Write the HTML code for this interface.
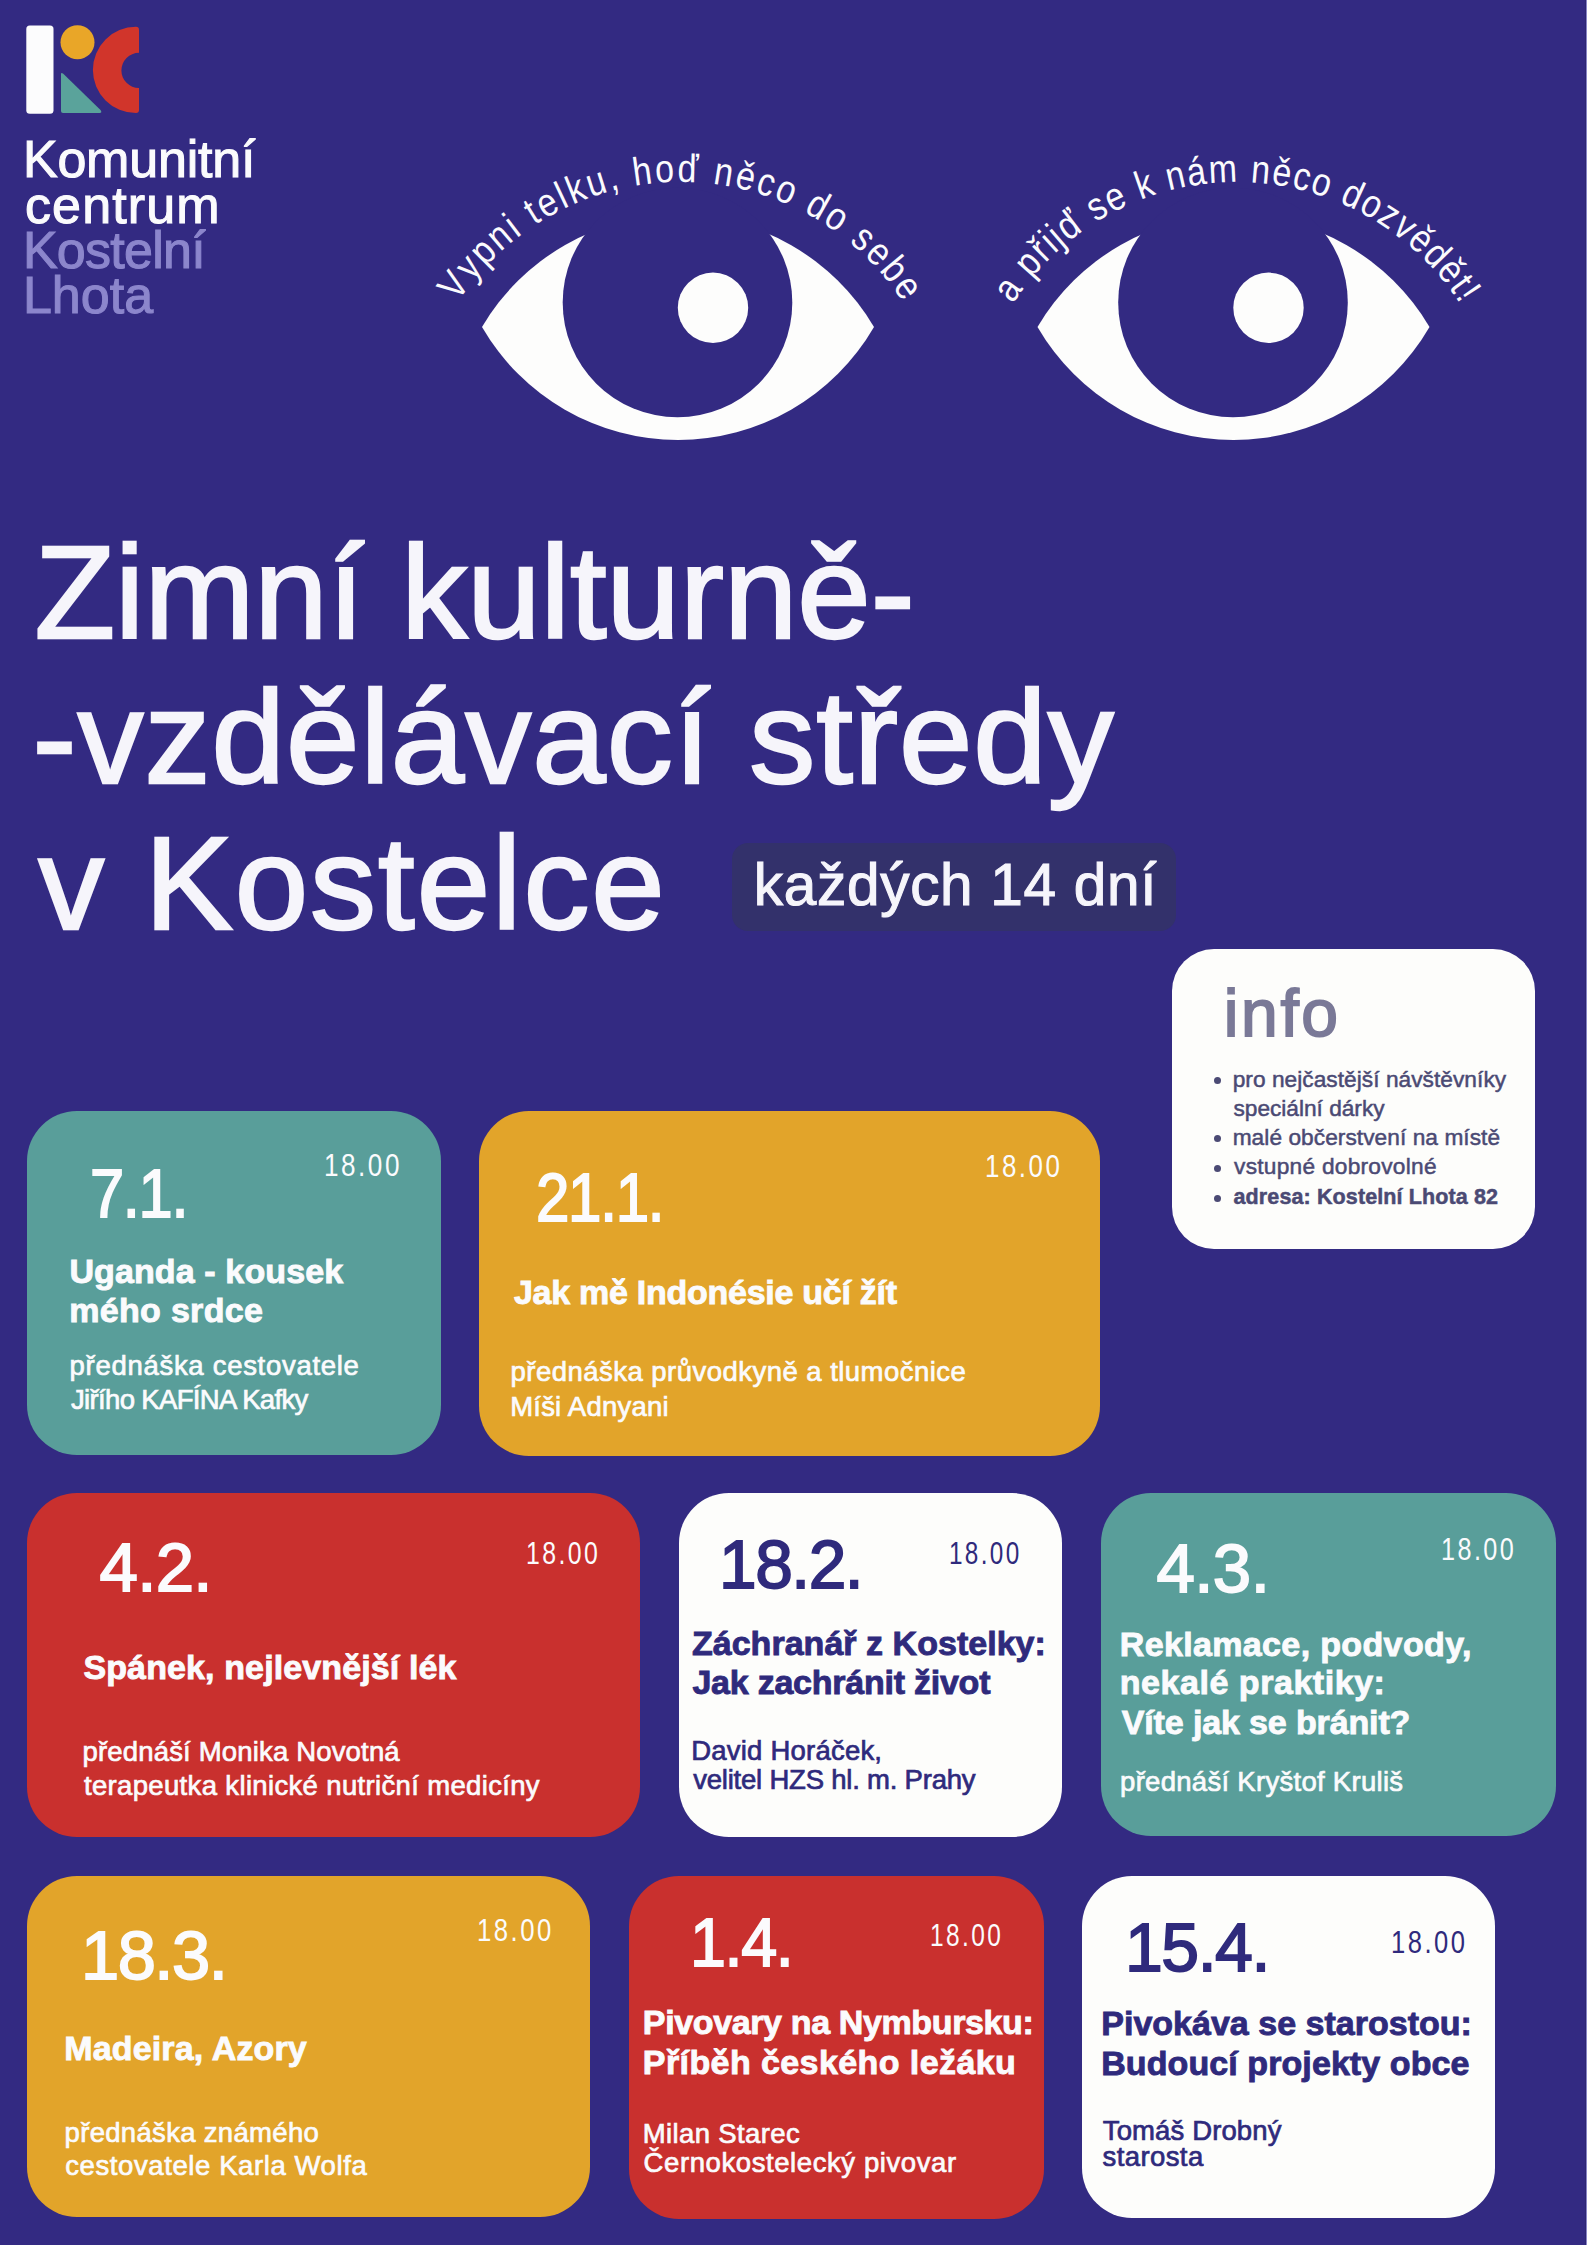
<!DOCTYPE html>
<html><head><meta charset="utf-8"><style>
html,body{margin:0;padding:0}
body{width:1587px;height:2245px;background:#332a82;position:relative;overflow:hidden;font-family:"Liberation Sans",sans-serif}
.t{position:absolute;white-space:nowrap;line-height:1}
.r{position:absolute}
.abs{position:absolute}
</style></head><body>
<div class="r" style="left:1586px;top:0;width:1px;height:2245px;background:#8a86c8"></div><div class="r" style="left:1585px;top:0;width:1px;height:2245px;background:#2e2772"></div>
<svg class="abs" style="left:0;top:0" width="160" height="130" viewBox="0 0 160 130">
<rect x="26.3" y="25.5" width="27.2" height="88.2" rx="3.5" fill="#fcfcfd"/>
<circle cx="77.5" cy="42.3" r="17" fill="#e9a628"/>
<path d="M61 74 Q61 72 63 73.6 L100.5 110 Q102.5 113 99.5 113 L63 113 Q61 113 61 111 Z" fill="#5aa39b"/>
<path d="M136 26.8 Q139 26.8 139 30 L139 52.8 A17.6 17.6 0 0 0 139 88 L139 110 Q139 113 136 113 A43.1 43.1 0 0 1 136 26.8 Z" fill="#d1352b"/>
</svg>
<div class="t" style="left:22.89px;top:133.48px;font-size:52px;color:#fbfbfd;letter-spacing:-0.180px;-webkit-text-stroke:1.1px #fbfbfd;">Komunitní</div>
<div class="t" style="left:24.97px;top:178.58px;font-size:52px;color:#fbfbfd;letter-spacing:1.147px;-webkit-text-stroke:1.1px #fbfbfd;">centrum</div>
<div class="t" style="left:22.89px;top:224.38px;font-size:52px;color:#8c86cc;letter-spacing:-0.737px;-webkit-text-stroke:1.1px #8c86cc;">Kostelní</div>
<div class="t" style="left:22.89px;top:269.48px;font-size:52px;color:#8c86cc;letter-spacing:0.015px;-webkit-text-stroke:1.1px #8c86cc;">Lhota</div>
<svg class="abs" style="left:0;top:0" width="1587" height="470" viewBox="0 0 1587 470"><path d="M482 327 A227.6 227.6 0 0 1 874 327 A226.5 226.5 0 0 1 482 327 Z" fill="#fdfdfc"/><circle cx="677.5" cy="302.5" r="114.8" fill="#332a82"/><circle cx="713" cy="307.8" r="35.2" fill="#fdfdfc"/><path d="M1037.5 327 A227.6 227.6 0 0 1 1429.5 327 A226.5 226.5 0 0 1 1037.5 327 Z" fill="#fdfdfc"/><circle cx="1233.0" cy="302.5" r="114.8" fill="#332a82"/><circle cx="1268.5" cy="307.8" r="35.2" fill="#fdfdfc"/><g font-family="Liberation Sans" font-size="39.5" fill="#fbfbfd"><text text-anchor="middle" transform="translate(464.17,292.98) rotate(-54.38) scale(0.86,1)">V</text><text text-anchor="middle" transform="translate(477.93,275.39) rotate(-49.57) scale(0.86,1)">y</text><text text-anchor="middle" transform="translate(491.78,260.34) rotate(-45.16) scale(0.86,1)">p</text><text text-anchor="middle" transform="translate(507.47,245.78) rotate(-40.55) scale(0.86,1)">n</text><text text-anchor="middle" transform="translate(519.72,235.91) rotate(-37.16) scale(0.86,1)">i</text><text text-anchor="middle" transform="translate(538.59,222.85) rotate(-32.22) scale(0.86,1)">t</text><text text-anchor="middle" transform="translate(552.98,214.41) rotate(-28.62) scale(0.86,1)">e</text><text text-anchor="middle" transform="translate(567.00,207.28) rotate(-25.23) scale(0.86,1)">l</text><text text-anchor="middle" transform="translate(580.54,201.35) rotate(-22.05) scale(0.86,1)">k</text><text text-anchor="middle" transform="translate(599.78,194.41) rotate(-17.64) scale(0.86,1)">u</text><text text-anchor="middle" transform="translate(615.82,189.86) rotate(-14.05) scale(0.86,1)">,</text><text text-anchor="middle" transform="translate(643.92,184.41) rotate(-7.88) scale(0.86,1)">h</text><text text-anchor="middle" transform="translate(665.22,182.33) rotate(-3.27) scale(0.86,1)">o</text><text text-anchor="middle" transform="translate(687.62,182.00) rotate(1.55) scale(0.86,1)">ď</text><text text-anchor="middle" transform="translate(721.81,185.14) rotate(8.96) scale(0.86,1)">n</text><text text-anchor="middle" transform="translate(742.80,189.32) rotate(13.57) scale(0.86,1)">ě</text><text text-anchor="middle" transform="translate(762.48,194.88) rotate(17.97) scale(0.86,1)">c</text><text text-anchor="middle" transform="translate(781.67,201.93) rotate(22.38) scale(0.86,1)">o</text><text text-anchor="middle" transform="translate(811.64,216.53) rotate(29.56) scale(0.86,1)">d</text><text text-anchor="middle" transform="translate(829.82,227.83) rotate(34.18) scale(0.86,1)">o</text><text text-anchor="middle" transform="translate(855.46,247.62) rotate(41.16) scale(0.86,1)">s</text><text text-anchor="middle" transform="translate(870.33,261.66) rotate(45.56) scale(0.86,1)">e</text><text text-anchor="middle" transform="translate(884.69,277.54) rotate(50.17) scale(0.86,1)">b</text><text text-anchor="middle" transform="translate(897.72,294.51) rotate(54.79) scale(0.86,1)">e</text></g><g font-family="Liberation Sans" font-size="39.5" fill="#fbfbfd"><text text-anchor="middle" transform="translate(1018.07,296.19) rotate(-55.20) scale(0.86,1)">a</text><text text-anchor="middle" transform="translate(1037.64,271.33) rotate(-48.38) scale(0.86,1)">p</text><text text-anchor="middle" transform="translate(1049.16,259.16) rotate(-44.77) scale(0.86,1)">ř</text><text text-anchor="middle" transform="translate(1057.20,251.52) rotate(-42.38) scale(0.86,1)">i</text><text text-anchor="middle" transform="translate(1064.10,245.43) rotate(-40.40) scale(0.86,1)">j</text><text text-anchor="middle" transform="translate(1076.49,235.51) rotate(-36.98) scale(0.86,1)">ď</text><text text-anchor="middle" transform="translate(1102.88,217.99) rotate(-30.15) scale(0.86,1)">s</text><text text-anchor="middle" transform="translate(1120.18,208.78) rotate(-25.93) scale(0.86,1)">e</text><text text-anchor="middle" transform="translate(1148.50,196.98) rotate(-19.32) scale(0.86,1)">k</text><text text-anchor="middle" transform="translate(1177.99,188.52) rotate(-12.71) scale(0.86,1)">n</text><text text-anchor="middle" transform="translate(1198.19,184.77) rotate(-8.28) scale(0.86,1)">á</text><text text-anchor="middle" transform="translate(1223.32,182.33) rotate(-2.84) scale(0.86,1)">m</text><text text-anchor="middle" transform="translate(1259.64,183.01) rotate(4.99) scale(0.86,1)">n</text><text text-anchor="middle" transform="translate(1280.02,185.59) rotate(9.42) scale(0.86,1)">ě</text><text text-anchor="middle" transform="translate(1299.22,189.50) rotate(13.64) scale(0.86,1)">c</text><text text-anchor="middle" transform="translate(1318.08,194.82) rotate(17.86) scale(0.86,1)">o</text><text text-anchor="middle" transform="translate(1347.56,206.29) rotate(24.68) scale(0.86,1)">d</text><text text-anchor="middle" transform="translate(1365.89,215.59) rotate(29.11) scale(0.86,1)">o</text><text text-anchor="middle" transform="translate(1382.64,225.74) rotate(33.33) scale(0.86,1)">z</text><text text-anchor="middle" transform="translate(1397.85,236.53) rotate(37.34) scale(0.86,1)">v</text><text text-anchor="middle" transform="translate(1412.98,248.98) rotate(41.56) scale(0.86,1)">ě</text><text text-anchor="middle" transform="translate(1427.82,263.19) rotate(45.99) scale(0.86,1)">d</text><text text-anchor="middle" transform="translate(1441.51,278.51) rotate(50.42) scale(0.86,1)">ě</text><text text-anchor="middle" transform="translate(1451.23,291.00) rotate(53.83) scale(0.86,1)">t</text><text text-anchor="middle" transform="translate(1457.59,300.10) rotate(56.22) scale(0.86,1)">!</text></g></svg>
<div class="t" style="left:34.44px;top:527.26px;font-size:132px;color:#f6f5fb;letter-spacing:0.004px;-webkit-text-stroke:2.4px #f6f5fb;">Zimní kulturně-</div>
<div class="t" style="left:32.46px;top:672.26px;font-size:132px;color:#f6f5fb;letter-spacing:1.036px;-webkit-text-stroke:2.4px #f6f5fb;">-vzdělávací středy</div>
<div class="t" style="left:38.14px;top:818.26px;font-size:132px;color:#f6f5fb;letter-spacing:1.964px;-webkit-text-stroke:2.4px #f6f5fb;">v Kostelce</div>
<div class="r" style="left:732px;top:843px;width:444px;height:88px;background:#33316b;border-radius:16px;"></div>
<div class="t" style="left:753.75px;top:856.28px;font-size:58.5px;color:#f6f5fb;letter-spacing:0.715px;-webkit-text-stroke:1.1px #f6f5fb;">každých 14 dní</div>
<div class="r" style="left:1172px;top:948.5px;width:363px;height:300.5px;background:#fdfdfb;border-radius:42px;"></div>
<div class="t" style="left:1223.81px;top:979.63px;font-size:66px;color:#7a7997;letter-spacing:2.623px;-webkit-text-stroke:1.8px #7a7997;">info</div>
<div class="t" style="left:1232.67px;top:1067.78px;font-size:22.7px;color:#4b4a74;letter-spacing:0.041px;-webkit-text-stroke:0.5px #4b4a74;">pro nejčastější návštěvníky</div>
<div class="r" style="left:1214.1000000000001px;top:1076.9px;width:7.2px;height:7.2px;border-radius:50%;background:#4b4a74"></div>
<div class="t" style="left:1233.47px;top:1096.78px;font-size:22.7px;color:#4b4a74;letter-spacing:-0.016px;-webkit-text-stroke:0.5px #4b4a74;">speciální dárky</div>
<div class="t" style="left:1232.67px;top:1126.18px;font-size:22.7px;color:#4b4a74;letter-spacing:0.056px;-webkit-text-stroke:0.5px #4b4a74;">malé občerstvení na místě</div>
<div class="r" style="left:1214.1000000000001px;top:1135.3000000000002px;width:7.2px;height:7.2px;border-radius:50%;background:#4b4a74"></div>
<div class="t" style="left:1234.04px;top:1155.38px;font-size:22.7px;color:#4b4a74;letter-spacing:0.263px;-webkit-text-stroke:0.5px #4b4a74;">vstupné dobrovolné</div>
<div class="r" style="left:1214.1000000000001px;top:1164.5px;width:7.2px;height:7.2px;border-radius:50%;background:#4b4a74"></div>
<div class="t" style="left:1233.51px;top:1186.70px;font-size:21.5px;color:#4b4a74;font-weight:700;letter-spacing:0.119px;-webkit-text-stroke:0.5px #4b4a74;">adresa: Kostelní Lhota 82</div>
<div class="r" style="left:1214.1000000000001px;top:1194.8000000000002px;width:7.2px;height:7.2px;border-radius:50%;background:#4b4a74"></div>
<div class="r" style="left:27px;top:1111px;width:414px;height:344px;background:#599e9a;border-radius:50px;"></div>
<div class="t" style="left:89.83px;top:1159.09px;font-size:69px;color:#fbfbfd;letter-spacing:-1.500px;-webkit-text-stroke:1.8px #fbfbfd;transform:scaleX(0.8905);transform-origin:0 0;">7.1.</div>
<div class="t" style="left:324.04px;top:1149.76px;font-size:31px;color:#fbfbfd;letter-spacing:3.000px;transform:scaleX(0.8421);transform-origin:0 0;">18.00</div>
<div class="t" style="left:69.41px;top:1254.22px;font-size:34px;color:#fbfbfd;font-weight:700;letter-spacing:0.117px;-webkit-text-stroke:0.9px #fbfbfd;">Uganda - kousek</div>
<div class="t" style="left:69.24px;top:1293.22px;font-size:34px;color:#fbfbfd;font-weight:700;letter-spacing:0.307px;-webkit-text-stroke:0.9px #fbfbfd;">mého srdce</div>
<div class="t" style="left:69.56px;top:1352.22px;font-size:27.5px;color:#fbfbfd;letter-spacing:0.709px;-webkit-text-stroke:0.7px #fbfbfd;">přednáška cestovatele</div>
<div class="t" style="left:70.94px;top:1385.72px;font-size:27.5px;color:#fbfbfd;letter-spacing:-0.652px;-webkit-text-stroke:0.7px #fbfbfd;">Jiřího KAFÍNA Kafky</div>
<div class="r" style="left:479px;top:1111px;width:621px;height:345px;background:#e2a42a;border-radius:50px;"></div>
<div class="t" style="left:535.89px;top:1162.59px;font-size:69px;color:#fbfbfd;letter-spacing:-1.500px;-webkit-text-stroke:1.8px #fbfbfd;transform:scaleX(0.8711);transform-origin:0 0;">21.1.</div>
<div class="t" style="left:985.06px;top:1150.76px;font-size:31px;color:#fbfbfd;letter-spacing:3.000px;transform:scaleX(0.8363);transform-origin:0 0;">18.00</div>
<div class="t" style="left:513.94px;top:1275.22px;font-size:34px;color:#fbfbfd;font-weight:700;letter-spacing:-0.269px;-webkit-text-stroke:0.9px #fbfbfd;">Jak mě Indonésie učí žít</div>
<div class="t" style="left:510.56px;top:1357.72px;font-size:27.5px;color:#fbfbfd;letter-spacing:0.470px;-webkit-text-stroke:0.7px #fbfbfd;">přednáška průvodkyně a tlumočnice</div>
<div class="t" style="left:510.15px;top:1392.72px;font-size:27.5px;color:#fbfbfd;letter-spacing:0.227px;-webkit-text-stroke:0.7px #fbfbfd;">Míši Adnyani</div>
<div class="r" style="left:27px;top:1493px;width:613px;height:344px;background:#c9302e;border-radius:50px;"></div>
<div class="t" style="left:99.52px;top:1532.59px;font-size:69px;color:#fbfbfd;letter-spacing:-0.698px;-webkit-text-stroke:1.8px #fbfbfd;">4.2.</div>
<div class="t" style="left:526.14px;top:1537.76px;font-size:31px;color:#fbfbfd;letter-spacing:3.000px;transform:scaleX(0.8015);transform-origin:0 0;">18.00</div>
<div class="t" style="left:83.43px;top:1650.22px;font-size:34px;color:#fbfbfd;font-weight:700;letter-spacing:0.122px;-webkit-text-stroke:0.9px #fbfbfd;">Spánek, nejlevnější lék</div>
<div class="t" style="left:82.56px;top:1737.72px;font-size:27.5px;color:#fbfbfd;letter-spacing:0.169px;-webkit-text-stroke:0.7px #fbfbfd;">přednáší Monika Novotná</div>
<div class="t" style="left:83.94px;top:1771.72px;font-size:27.5px;color:#fbfbfd;letter-spacing:0.345px;-webkit-text-stroke:0.7px #fbfbfd;">terapeutka klinické nutriční medicíny</div>
<div class="r" style="left:679px;top:1493px;width:383px;height:344px;background:#fdfdfb;border-radius:50px;"></div>
<div class="t" style="left:718.82px;top:1530.09px;font-size:69px;color:#2f2a7c;letter-spacing:-1.500px;-webkit-text-stroke:1.8px #2f2a7c;transform:scaleX(0.9809);transform-origin:0 0;">18.2.</div>
<div class="t" style="left:949.18px;top:1537.76px;font-size:31px;color:#2f2a7c;letter-spacing:3.000px;transform:scaleX(0.7841);transform-origin:0 0;">18.00</div>
<div class="t" style="left:691.93px;top:1626.22px;font-size:34px;color:#2f2a7c;font-weight:700;letter-spacing:0.030px;-webkit-text-stroke:0.9px #2f2a7c;">Záchranář z Kostelky:</div>
<div class="t" style="left:692.44px;top:1665.22px;font-size:34px;color:#2f2a7c;font-weight:700;letter-spacing:-0.239px;-webkit-text-stroke:0.9px #2f2a7c;">Jak zachránit život</div>
<div class="t" style="left:691.15px;top:1736.52px;font-size:27.5px;color:#2f2a7c;letter-spacing:0.221px;-webkit-text-stroke:0.7px #2f2a7c;">David Horáček,</div>
<div class="t" style="left:693.21px;top:1765.72px;font-size:27.5px;color:#2f2a7c;letter-spacing:-0.215px;-webkit-text-stroke:0.7px #2f2a7c;">velitel HZS hl. m. Prahy</div>
<div class="r" style="left:1101px;top:1493px;width:455px;height:343px;background:#599e9a;border-radius:50px;"></div>
<div class="t" style="left:1156.52px;top:1533.59px;font-size:69px;color:#fbfbfd;letter-spacing:-0.598px;-webkit-text-stroke:1.8px #fbfbfd;">4.3.</div>
<div class="t" style="left:1441.11px;top:1533.76px;font-size:31px;color:#fbfbfd;letter-spacing:3.000px;transform:scaleX(0.8131);transform-origin:0 0;">18.00</div>
<div class="t" style="left:1119.74px;top:1627.22px;font-size:34px;color:#fbfbfd;font-weight:700;letter-spacing:0.357px;-webkit-text-stroke:0.9px #fbfbfd;">Reklamace, podvody,</div>
<div class="t" style="left:1119.74px;top:1665.22px;font-size:34px;color:#fbfbfd;font-weight:700;letter-spacing:0.545px;-webkit-text-stroke:0.9px #fbfbfd;">nekalé praktiky:</div>
<div class="t" style="left:1121.78px;top:1705.22px;font-size:34px;color:#fbfbfd;font-weight:700;letter-spacing:-0.133px;-webkit-text-stroke:0.9px #fbfbfd;">Víte jak se bránit?</div>
<div class="t" style="left:1120.06px;top:1768.22px;font-size:27.5px;color:#fbfbfd;letter-spacing:0.291px;-webkit-text-stroke:0.7px #fbfbfd;">přednáší Kryštof Kruliš</div>
<div class="r" style="left:27px;top:1876px;width:563px;height:341px;background:#e2a42a;border-radius:50px;"></div>
<div class="t" style="left:80.75px;top:1920.59px;font-size:69px;color:#fbfbfd;letter-spacing:-1.500px;-webkit-text-stroke:1.8px #fbfbfd;transform:scaleX(0.9949);transform-origin:0 0;">18.3.</div>
<div class="t" style="left:476.57px;top:1914.76px;font-size:31px;color:#fbfbfd;letter-spacing:3.000px;transform:scaleX(0.8305);transform-origin:0 0;">18.00</div>
<div class="t" style="left:64.24px;top:2031.22px;font-size:34px;color:#fbfbfd;font-weight:700;letter-spacing:0.148px;-webkit-text-stroke:0.9px #fbfbfd;">Madeira, Azory</div>
<div class="t" style="left:64.56px;top:2118.72px;font-size:27.5px;color:#fbfbfd;letter-spacing:0.315px;-webkit-text-stroke:0.7px #fbfbfd;">přednáška známého</div>
<div class="t" style="left:65.25px;top:2152.32px;font-size:27.5px;color:#fbfbfd;letter-spacing:0.594px;-webkit-text-stroke:0.7px #fbfbfd;">cestovatele Karla Wolfa</div>
<div class="r" style="left:629px;top:1876px;width:415px;height:343px;background:#c9302e;border-radius:50px;"></div>
<div class="t" style="left:690.05px;top:1907.59px;font-size:69px;color:#fbfbfd;letter-spacing:-1.500px;-webkit-text-stroke:1.8px #fbfbfd;transform:scaleX(0.9374);transform-origin:0 0;">1.4.</div>
<div class="t" style="left:930.16px;top:1920.26px;font-size:31px;color:#fbfbfd;letter-spacing:3.000px;transform:scaleX(0.7899);transform-origin:0 0;">18.00</div>
<div class="t" style="left:642.84px;top:2005.22px;font-size:34px;color:#fbfbfd;font-weight:700;letter-spacing:-0.367px;-webkit-text-stroke:0.9px #fbfbfd;">Pivovary na Nymbursku:</div>
<div class="t" style="left:642.84px;top:2045.22px;font-size:34px;color:#fbfbfd;font-weight:700;letter-spacing:0.413px;-webkit-text-stroke:0.9px #fbfbfd;">Příběh českého ležáku</div>
<div class="t" style="left:642.75px;top:2120.22px;font-size:27.5px;color:#fbfbfd;letter-spacing:0.372px;-webkit-text-stroke:0.7px #fbfbfd;">Milan Starec</div>
<div class="t" style="left:643.58px;top:2148.72px;font-size:27.5px;color:#fbfbfd;letter-spacing:0.587px;-webkit-text-stroke:0.7px #fbfbfd;">Černokostelecký pivovar</div>
<div class="r" style="left:1082px;top:1876px;width:413px;height:342px;background:#fdfdfb;border-radius:50px;"></div>
<div class="t" style="left:1125.40px;top:1913.19px;font-size:69px;color:#2f2a7c;letter-spacing:-1.500px;-webkit-text-stroke:1.8px #2f2a7c;transform:scaleX(0.9853);transform-origin:0 0;">15.4.</div>
<div class="t" style="left:1391.08px;top:1926.76px;font-size:31px;color:#2f2a7c;letter-spacing:3.000px;transform:scaleX(0.8247);transform-origin:0 0;">18.00</div>
<div class="t" style="left:1101.24px;top:2006.22px;font-size:34px;color:#2f2a7c;font-weight:700;letter-spacing:0.013px;-webkit-text-stroke:0.9px #2f2a7c;">Pivokáva se starostou:</div>
<div class="t" style="left:1101.24px;top:2045.72px;font-size:34px;color:#2f2a7c;font-weight:700;letter-spacing:0.084px;-webkit-text-stroke:0.9px #2f2a7c;">Budoucí projekty obce</div>
<div class="t" style="left:1102.80px;top:2116.72px;font-size:27.5px;color:#2f2a7c;letter-spacing:0.119px;-webkit-text-stroke:0.7px #2f2a7c;">Tomáš Drobný</div>
<div class="t" style="left:1102.52px;top:2143.42px;font-size:27.5px;color:#2f2a7c;letter-spacing:0.409px;-webkit-text-stroke:0.7px #2f2a7c;">starosta</div>
</body></html>
